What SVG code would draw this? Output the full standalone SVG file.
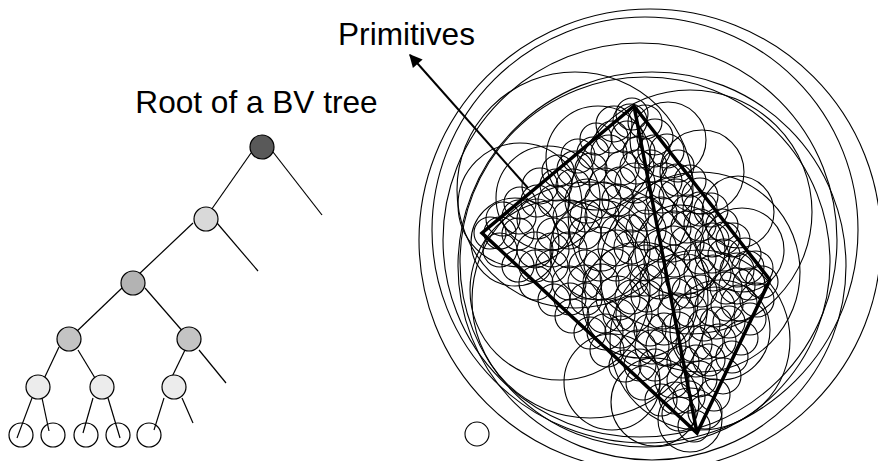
<svg xmlns="http://www.w3.org/2000/svg" width="878" height="461" viewBox="0 0 878 461">
<style>
.lbl{font-family:"Liberation Sans",Arial,sans-serif;font-size:31.6px;fill:#000}
.e{stroke:#000;stroke-width:1.2;fill:none}
.n{stroke:#000;stroke-width:1.2}
.c{fill:none;stroke:#000;stroke-width:1.1}
.q{fill:none;stroke:#000;stroke-width:3.5;stroke-linejoin:miter}
</style>
<defs>
<marker id="ah" viewBox="0 0 10 10" refX="9" refY="5" markerWidth="17" markerHeight="13" markerUnits="userSpaceOnUse" orient="auto">
<path d="M0,0 L10,5 L0,10 z" fill="#000"/>
</marker>
</defs>
<rect width="878" height="461" fill="#fff"/>
<text class="lbl" x="256.5" y="113" text-anchor="middle">Root of a BV tree</text>
<text class="lbl" x="406.5" y="45" text-anchor="middle">Primitives</text>
<g id="edges">
<line class="e" x1="251" y1="153" x2="209" y2="213"/>
<line class="e" x1="273" y1="152" x2="322" y2="215"/>
<line class="e" x1="193" y1="223" x2="137" y2="276"/>
<line class="e" x1="217" y1="223" x2="258" y2="271"/>
<line class="e" x1="122" y1="288" x2="74" y2="334"/>
<line class="e" x1="145" y1="288" x2="185" y2="334"/>
<line class="e" x1="59" y1="347" x2="42" y2="383"/>
<line class="e" x1="78" y1="350" x2="98" y2="383"/>
<line class="e" x1="185" y1="350" x2="169" y2="383"/>
<line class="e" x1="199" y1="350" x2="226" y2="383"/>
<line class="e" x1="32" y1="398" x2="17" y2="438"/>
<line class="e" x1="42" y1="398" x2="49" y2="431"/>
<line class="e" x1="93" y1="398" x2="83" y2="433"/>
<line class="e" x1="108" y1="398" x2="120" y2="438"/>
<line class="e" x1="164" y1="398" x2="154" y2="430"/>
<line class="e" x1="182" y1="398" x2="193" y2="423"/>
</g>
<g id="root"><circle class="n" cx="262" cy="147" r="12" fill="#595959"/></g>
<g id="n1"><circle class="n" cx="206" cy="219" r="12" fill="#d9d9d9"/></g>
<g id="n2"><circle class="n" cx="133" cy="283" r="12" fill="#b3b3b3"/></g>
<g id="n3a"><circle class="n" cx="69" cy="339" r="12" fill="#c4c4c4"/></g>
<g id="n3b"><circle class="n" cx="189" cy="339" r="12" fill="#c4c4c4"/></g>
<g id="n4a"><circle class="n" cx="38" cy="387" r="12" fill="#ececec"/></g>
<g id="n4b"><circle class="n" cx="102" cy="387" r="12" fill="#ececec"/></g>
<g id="n4c"><circle class="n" cx="174" cy="387" r="12" fill="#ececec"/></g>
<g id="leaves">
<circle class="n" cx="21" cy="435" r="12" fill="none"/>
<circle class="n" cx="53" cy="435" r="12" fill="none"/>
<circle class="n" cx="86" cy="435" r="12" fill="none"/>
<circle class="n" cx="118" cy="435" r="12" fill="none"/>
<circle class="n" cx="149" cy="435" r="12" fill="none"/>
</g>
<g id="bv-spheres">
<circle class="c" cx="477" cy="434" r="12"/>
<circle class="c" cx="650" cy="240" r="231"/>
<circle class="c" cx="645" cy="230" r="213"/>
<circle class="c" cx="640" cy="240" r="197"/>
<circle class="c" cx="652" cy="266" r="194"/>
<circle class="c" cx="645" cy="262" r="185"/>
<circle class="c" cx="575" cy="190" r="118"/>
<circle class="c" cx="690" cy="212" r="122"/>
<circle class="c" cx="590" cy="300" r="118"/>
<circle class="c" cx="700" cy="272" r="100"/>
<circle class="c" cx="520" cy="205" r="62"/>
<circle class="c" cx="560" cy="290" r="90"/>
<circle class="c" cx="700" cy="340" r="90"/>
<circle class="c" cx="668" cy="140" r="38"/>
<circle class="c" cx="702" cy="172" r="42"/>
<circle class="c" cx="742" cy="250" r="42"/>
<circle class="c" cx="738" cy="212" r="36"/>
<circle class="c" cx="515" cy="242" r="44"/>
<circle class="c" cx="548" cy="198" r="52"/>
<circle class="c" cx="598" cy="158" r="52"/>
<circle class="c" cx="612" cy="382" r="48"/>
<circle class="c" cx="655" cy="402" r="44"/>
<circle class="c" cx="690" cy="420" r="32"/>
<circle class="c" cx="720" cy="330" r="50"/>
<circle class="c" cx="640" cy="300" r="58"/>
<circle class="c" cx="600" cy="250" r="50"/>
<circle class="c" cx="680" cy="250" r="45"/>
<circle class="c" cx="490" cy="233" r="16"/>
<circle class="c" cx="503" cy="219" r="17"/>
<circle class="c" cx="520" cy="203" r="16"/>
<circle class="c" cx="540" cy="186" r="18"/>
<circle class="c" cx="558" cy="171" r="16"/>
<circle class="c" cx="578" cy="156" r="17"/>
<circle class="c" cx="596" cy="139" r="16"/>
<circle class="c" cx="614" cy="124" r="18"/>
<circle class="c" cx="632" cy="114" r="16"/>
<circle class="c" cx="500" cy="250" r="17"/>
<circle class="c" cx="518" cy="234" r="16"/>
<circle class="c" cx="537" cy="219" r="20"/>
<circle class="c" cx="554" cy="201" r="16"/>
<circle class="c" cx="573" cy="186" r="17"/>
<circle class="c" cx="591" cy="169" r="16"/>
<circle class="c" cx="609" cy="153" r="18"/>
<circle class="c" cx="627" cy="137" r="16"/>
<circle class="c" cx="645" cy="122" r="17"/>
<circle class="c" cx="518" cy="266" r="16"/>
<circle class="c" cx="535" cy="250" r="18"/>
<circle class="c" cx="553" cy="234" r="16"/>
<circle class="c" cx="570" cy="217" r="17"/>
<circle class="c" cx="587" cy="201" r="22"/>
<circle class="c" cx="605" cy="184" r="16"/>
<circle class="c" cx="622" cy="168" r="17"/>
<circle class="c" cx="639" cy="152" r="16"/>
<circle class="c" cx="655" cy="137" r="18"/>
<circle class="c" cx="536" cy="283" r="17"/>
<circle class="c" cx="552" cy="266" r="16"/>
<circle class="c" cx="569" cy="250" r="18"/>
<circle class="c" cx="585" cy="233" r="16"/>
<circle class="c" cx="602" cy="216" r="17"/>
<circle class="c" cx="618" cy="200" r="16"/>
<circle class="c" cx="635" cy="183" r="20"/>
<circle class="c" cx="651" cy="166" r="16"/>
<circle class="c" cx="667" cy="151" r="17"/>
<circle class="c" cx="554" cy="300" r="16"/>
<circle class="c" cx="569" cy="283" r="17"/>
<circle class="c" cx="585" cy="266" r="16"/>
<circle class="c" cx="601" cy="249" r="22"/>
<circle class="c" cx="617" cy="232" r="16"/>
<circle class="c" cx="632" cy="215" r="17"/>
<circle class="c" cx="648" cy="198" r="16"/>
<circle class="c" cx="664" cy="181" r="18"/>
<circle class="c" cx="678" cy="166" r="16"/>
<circle class="c" cx="572" cy="316" r="17"/>
<circle class="c" cx="586" cy="299" r="16"/>
<circle class="c" cx="601" cy="282" r="18"/>
<circle class="c" cx="616" cy="265" r="16"/>
<circle class="c" cx="631" cy="247" r="17"/>
<circle class="c" cx="646" cy="230" r="20"/>
<circle class="c" cx="661" cy="213" r="16"/>
<circle class="c" cx="676" cy="196" r="17"/>
<circle class="c" cx="690" cy="181" r="16"/>
<circle class="c" cx="590" cy="333" r="16"/>
<circle class="c" cx="604" cy="316" r="17"/>
<circle class="c" cx="618" cy="298" r="22"/>
<circle class="c" cx="632" cy="281" r="16"/>
<circle class="c" cx="646" cy="263" r="18"/>
<circle class="c" cx="660" cy="246" r="16"/>
<circle class="c" cx="674" cy="228" r="17"/>
<circle class="c" cx="688" cy="211" r="16"/>
<circle class="c" cx="700" cy="196" r="18"/>
<circle class="c" cx="607" cy="350" r="17"/>
<circle class="c" cx="621" cy="332" r="16"/>
<circle class="c" cx="634" cy="314" r="18"/>
<circle class="c" cx="647" cy="296" r="16"/>
<circle class="c" cx="660" cy="279" r="20"/>
<circle class="c" cx="674" cy="261" r="16"/>
<circle class="c" cx="687" cy="243" r="17"/>
<circle class="c" cx="700" cy="225" r="16"/>
<circle class="c" cx="711" cy="210" r="17"/>
<circle class="c" cx="625" cy="366" r="16"/>
<circle class="c" cx="638" cy="348" r="18"/>
<circle class="c" cx="650" cy="330" r="16"/>
<circle class="c" cx="663" cy="312" r="17"/>
<circle class="c" cx="675" cy="294" r="16"/>
<circle class="c" cx="687" cy="276" r="22"/>
<circle class="c" cx="700" cy="258" r="16"/>
<circle class="c" cx="712" cy="240" r="17"/>
<circle class="c" cx="722" cy="225" r="16"/>
<circle class="c" cx="643" cy="383" r="17"/>
<circle class="c" cx="655" cy="365" r="16"/>
<circle class="c" cx="666" cy="346" r="20"/>
<circle class="c" cx="678" cy="328" r="16"/>
<circle class="c" cx="690" cy="310" r="17"/>
<circle class="c" cx="701" cy="291" r="16"/>
<circle class="c" cx="713" cy="273" r="18"/>
<circle class="c" cx="724" cy="255" r="16"/>
<circle class="c" cx="733" cy="240" r="17"/>
<circle class="c" cx="661" cy="400" r="16"/>
<circle class="c" cx="672" cy="381" r="17"/>
<circle class="c" cx="683" cy="362" r="16"/>
<circle class="c" cx="694" cy="344" r="18"/>
<circle class="c" cx="704" cy="325" r="16"/>
<circle class="c" cx="715" cy="307" r="20"/>
<circle class="c" cx="726" cy="288" r="16"/>
<circle class="c" cx="737" cy="270" r="17"/>
<circle class="c" cx="745" cy="254" r="16"/>
<circle class="c" cx="679" cy="414" r="17"/>
<circle class="c" cx="689" cy="397" r="16"/>
<circle class="c" cx="699" cy="379" r="18"/>
<circle class="c" cx="709" cy="360" r="16"/>
<circle class="c" cx="719" cy="341" r="17"/>
<circle class="c" cx="729" cy="322" r="16"/>
<circle class="c" cx="739" cy="303" r="18"/>
<circle class="c" cx="749" cy="284" r="16"/>
<circle class="c" cx="756" cy="268" r="17"/>
<circle class="c" cx="694" cy="426" r="16"/>
<circle class="c" cx="705" cy="412" r="17"/>
<circle class="c" cx="714" cy="395" r="16"/>
<circle class="c" cx="723" cy="376" r="18"/>
<circle class="c" cx="732" cy="357" r="16"/>
<circle class="c" cx="741" cy="338" r="17"/>
<circle class="c" cx="750" cy="319" r="16"/>
<circle class="c" cx="757" cy="300" r="17"/>
<circle class="c" cx="762" cy="282" r="16"/>
<circle class="c" cx="500" cy="233" r="16"/>
<circle class="c" cx="519" cy="217" r="17"/>
<circle class="c" cx="537" cy="201" r="16"/>
<circle class="c" cx="556" cy="185" r="16"/>
<circle class="c" cx="575" cy="169" r="18"/>
<circle class="c" cx="593" cy="153" r="16"/>
<circle class="c" cx="612" cy="137" r="16"/>
<circle class="c" cx="630" cy="121" r="17"/>
<circle class="c" cx="535" cy="266" r="16"/>
<circle class="c" cx="552" cy="250" r="17"/>
<circle class="c" cx="569" cy="233" r="16"/>
<circle class="c" cx="586" cy="216" r="16"/>
<circle class="c" cx="603" cy="200" r="18"/>
<circle class="c" cx="620" cy="183" r="16"/>
<circle class="c" cx="637" cy="167" r="17"/>
<circle class="c" cx="654" cy="151" r="16"/>
<circle class="c" cx="570" cy="299" r="16"/>
<circle class="c" cx="585" cy="282" r="17"/>
<circle class="c" cx="600" cy="265" r="16"/>
<circle class="c" cx="616" cy="248" r="18"/>
<circle class="c" cx="631" cy="231" r="16"/>
<circle class="c" cx="646" cy="214" r="17"/>
<circle class="c" cx="662" cy="197" r="16"/>
<circle class="c" cx="677" cy="180" r="16"/>
<circle class="c" cx="605" cy="332" r="18"/>
<circle class="c" cx="619" cy="315" r="16"/>
<circle class="c" cx="632" cy="297" r="17"/>
<circle class="c" cx="646" cy="280" r="16"/>
<circle class="c" cx="660" cy="262" r="16"/>
<circle class="c" cx="673" cy="244" r="18"/>
<circle class="c" cx="687" cy="227" r="16"/>
<circle class="c" cx="700" cy="209" r="17"/>
<circle class="c" cx="640" cy="365" r="16"/>
<circle class="c" cx="652" cy="347" r="17"/>
<circle class="c" cx="664" cy="329" r="16"/>
<circle class="c" cx="676" cy="311" r="18"/>
<circle class="c" cx="688" cy="292" r="16"/>
<circle class="c" cx="700" cy="274" r="16"/>
<circle class="c" cx="712" cy="256" r="17"/>
<circle class="c" cx="724" cy="238" r="16"/>
<circle class="c" cx="675" cy="398" r="16"/>
<circle class="c" cx="685" cy="380" r="18"/>
<circle class="c" cx="696" cy="361" r="16"/>
<circle class="c" cx="706" cy="342" r="17"/>
<circle class="c" cx="716" cy="323" r="16"/>
<circle class="c" cx="727" cy="305" r="16"/>
<circle class="c" cx="737" cy="286" r="18"/>
<circle class="c" cx="748" cy="267" r="16"/>
</g>
<g id="primitive">
<polygon class="q" points="634,106 482,233 697,433 770,280"/>
<line class="q" x1="634" y1="106" x2="697" y2="433"/>
</g>
<g id="connectors">
<line x1="528" y1="188" x2="410" y2="55" stroke="#000" stroke-width="2" marker-end="url(#ah)"/>
</g>
</svg>
